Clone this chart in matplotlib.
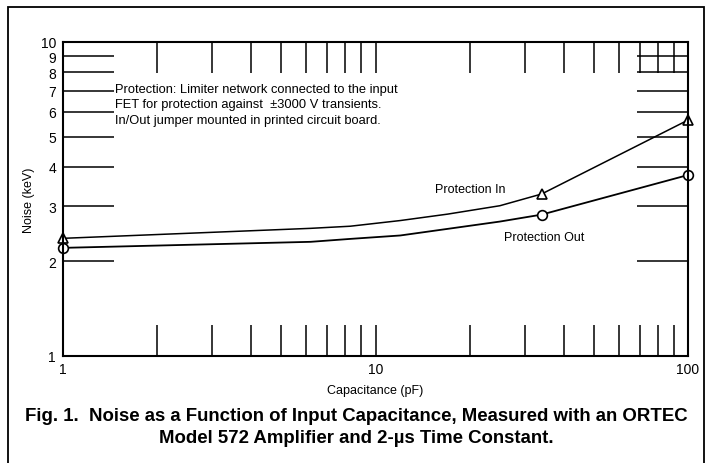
"""
    Noise vs input capacitance (ORTEC 572)
"""
import matplotlib
matplotlib.use('Agg')
import matplotlib.pyplot as plt
from matplotlib.patches import Rectangle
from matplotlib.ticker import FixedLocator, NullFormatter, FixedFormatter

plt.rcParams['font.family'] = ['Liberation Sans', 'DejaVu Sans']

# capacitance (pF)
cap_in = [1, 6.2, 8.3, 12, 17, 25, 34, 100]
noise_in = [2.37, 2.55, 2.59, 2.70, 2.83, 3.01, 3.28, 5.64]
cap_out = [1, 6.2, 8.3, 12, 17, 25, 34, 100]
noise_out = [2.21, 2.31, 2.36, 2.42, 2.54, 2.68, 2.82, 3.77]
# measured points carry markers
mark_cap = [1, 34, 100]
mark_in = [2.37, 3.28, 5.64]
mark_out = [2.21, 2.82, 3.77]

y_ticks = [1, 2, 3, 4, 5, 6, 7, 8, 9, 10]
x_ticks = [1, 10, 100]
x_minor = [2, 3, 4, 5, 6, 7, 8, 9, 20, 30, 40, 50, 60, 70, 80, 90]

fig = plt.figure(figsize=(7.09, 4.64), dpi=100)
ax = fig.add_axes([63 / 709, 1 - 357 / 464, (688 - 63) / 709, (357 - 43) / 464])

ax.plot(cap_in, noise_in, color='black', lw=1.1)
ax.plot(cap_out, noise_out, color='black', lw=1.3)
ax.plot(mark_cap, mark_in, ls='none', marker='^', ms=7, mfc='white', mec='black', mew=1.2, clip_on=False)
ax.plot(mark_cap, mark_out, ls='none', marker='o', ms=7, mfc='white', mec='black', mew=1.2, clip_on=False)

ax.set_xscale('log')
ax.set_yscale('log')
ax.set_xlim(1, 100)
ax.set_ylim(1, 10)

ax.xaxis.set_major_locator(FixedLocator(x_ticks + x_minor))
ax.xaxis.set_major_formatter(FixedFormatter(['1', '10', '100'] + [''] * len(x_minor)))
ax.xaxis.set_minor_locator(FixedLocator([]))
ax.yaxis.set_major_locator(FixedLocator(y_ticks))
ax.yaxis.set_major_formatter(FixedFormatter([str(v) for v in y_ticks]))
ax.yaxis.set_minor_locator(FixedLocator([]))
ax.yaxis.set_minor_formatter(NullFormatter())

ax.tick_params(axis='x', which='both', direction='in', length=22, width=1.1,
               top=True, bottom=True, pad=4, labelsize=10)
ax.tick_params(axis='y', which='both', direction='in', length=37, width=1.1,
               left=True, right=True, pad=5, labelsize=10)
for s in ax.spines.values():
    s.set_linewidth(1.5)

ax.set_xlabel('Capacitance (pF)', fontsize=9, labelpad=6)
ax.set_ylabel('Noise (keV)', fontsize=9, labelpad=4)

ax.text(0.083, 0.870,
        'Protection: Limiter network connected to the input\n'
        'FET for protection against  \u00b13000 V transients.\n'
        'In/Out jumper mounted in printed circuit board.',
        transform=ax.transAxes, fontsize=9.3, va='top', ha='left', linespacing=1.38)
ax.text(15.5, 3.40, 'Protection In', fontsize=9, ha='left', va='center')
ax.text(25.8, 2.39, 'Protection Out', fontsize=9, ha='left', va='center')

fig.text(0.503, 1 - 417 / 464, 'Fig. 1.  Noise as a Function of Input Capacitance, Measured with an ORTEC',
         ha='center', va='center', fontsize=13.4, fontweight='bold')
fig.text(0.503, 1 - 439 / 464, 'Model 572 Amplifier and 2-\u00b5s Time Constant.',
         ha='center', va='center', fontsize=13.4, fontweight='bold')

# outer frame running off the bottom of the page
fig.patches.append(Rectangle((8 / 709, -0.05), (704 - 8) / 709, 1 - 8 / 464 + 0.05,
                             transform=fig.transFigure, fill=False, ec='black', lw=1.3))

fig.savefig('out.png', dpi=100)
